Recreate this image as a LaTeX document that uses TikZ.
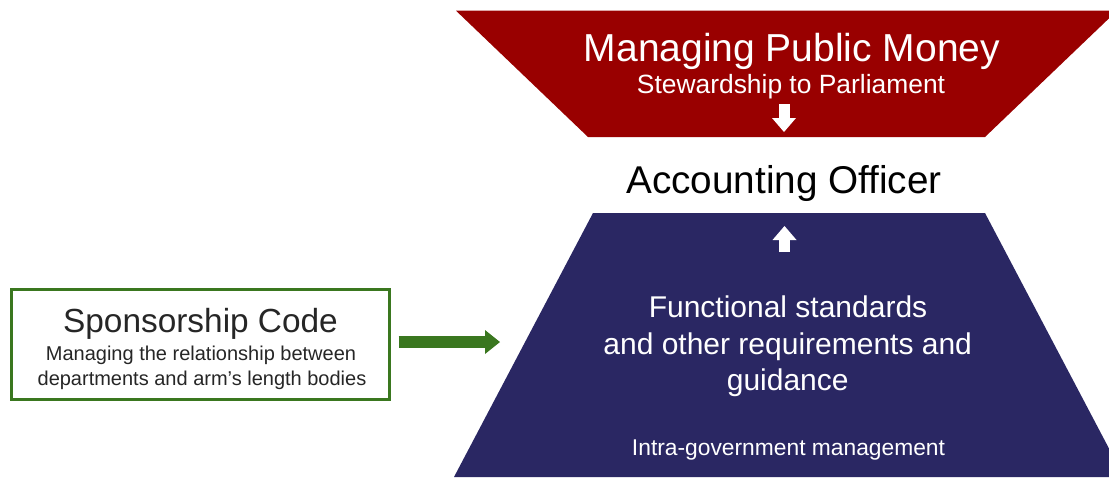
\documentclass[tikz,border=0pt]{standalone}
\usepackage{fontspec}
\setmainfont{Liberation Sans}
\usetikzlibrary{arrows.meta}

\definecolor{mpmred}{HTML}{990000}
\definecolor{agnavy}{HTML}{2A2763}
\definecolor{codegreen}{HTML}{3A771F}
\definecolor{codetext}{HTML}{262626}

\newcommand{\fs}[1]{\fontsize{#1}{#1}\selectfont}

\begin{document}
\begin{tikzpicture}[x=1pt, y=-1pt,
  txt/.style={anchor=base, inner sep=0pt, outer sep=0pt},
  whitearrow/.style={draw=white, line width=11pt,
    -{Triangle[length=14pt, width=24pt, line width=0pt]}},
  greenarrow/.style={draw=codegreen, line width=12.6pt,
    -{Triangle[length=15pt, width=24pt, line width=0pt]}},
  codebox/.style={draw=codegreen, line width=3pt, fill=white,
    minimum width=378pt, minimum height=110pt, inner sep=0pt}]

\useasboundingbox (0,0) rectangle (1109,477);

% the two trapezoids, cut off at the picture edges
\begin{scope}
  \clip (0,0) rectangle (1109,477);
  \fill[mpmred] (456,10.7) -- (1117,10.7) -- (985,137) -- (588,137) -- cycle;
  \fill[agnavy] (593,213) -- (985,213) -- (1124,477) -- (454,477) -- cycle;
\end{scope}

% top: Managing Public Money
\node[txt, white, font=\fs{39}] (mpm) at (792,61) {Managing Public Money};
\node[txt, white, font=\fs{26.4}] (steward) at (791,93) {Stewardship to Parliament};
\coordinate (downfrom) at (784,104);
\coordinate (downto) at (784,132);
\draw[whitearrow] (downfrom) -- (downto);

% middle: Accounting Officer
\node[txt, black, font=\fs{38.7}] (ao) at (784,193) {Accounting Officer};

% bottom: functional standards
\coordinate (upfrom) at (784.5,252);
\coordinate (upto) at (784.5,226);
\draw[whitearrow] (upfrom) -- (upto);
\node[txt, white, font=\fs{30}] (fs1) at (788,317) {Functional standards};
\node[txt, white, font=\fs{30}] (fs2) at (787.7,354) {and other requirements and};
\node[txt, white, font=\fs{30}] (fs3) at (787.7,390) {guidance};
\node[txt, white, font=\fs{22.8}] (igm) at (788.5,455) {Intra-government management};

% left: Sponsorship Code box and its arrow
\node[codebox] (spons) at (200.5,344) {};
\node[txt, codetext, font=\fs{33.4}] (sc) at (200.5,332) {Sponsorship Code};
\node[txt, codetext, font=\fs{20}] (sc1) at (201,360) {Managing the relationship between};
\node[txt, codetext, font=\fs{20}] (sc2) at (202,385) {departments and arm’s length bodies};
\coordinate (ftip) at (500,342);
\draw[greenarrow, shorten <=7.5pt] (spons.east |- ftip) -- (ftip);

\end{tikzpicture}
\end{document}
